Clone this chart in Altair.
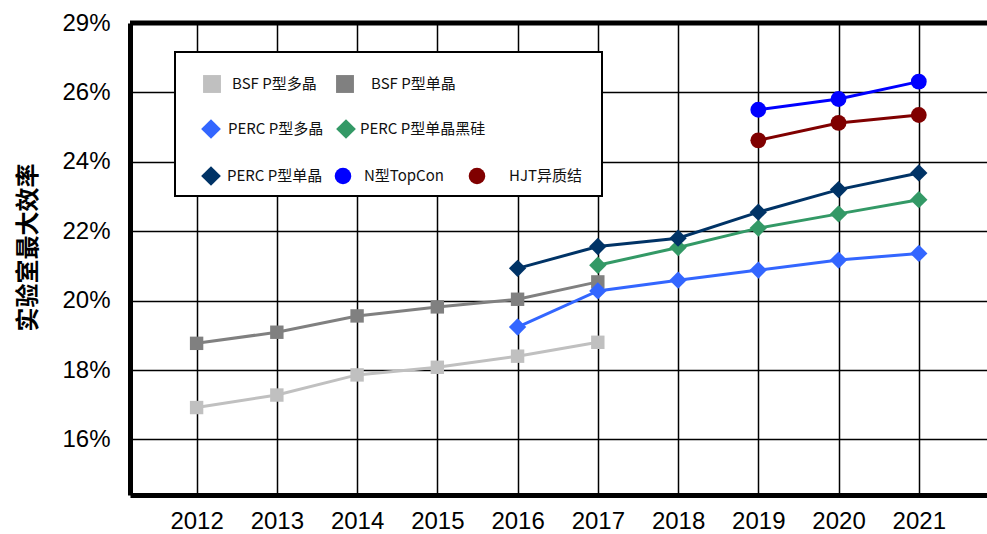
import altair as alt
import pandas as pd

# ---------------- data ----------------
series_names = ["BSF P型多晶", "BSF P型单晶", "PERC P型多晶", "PERC P型单晶黑硅",
                "PERC P型单晶", "N型TopCon", "HJT异质结"]
series_colors = ["#c0c0c0", "#808080", "#3366ff", "#339966", "#003366", "#0000ff", "#800000"]
series_shapes = ["square", "square", "diamond", "diamond", "diamond", "circle", "circle"]

bsf_multi_years = [2012, 2013, 2014, 2015, 2016, 2017]
bsf_multi = [16.92, 17.28, 17.86, 18.08, 18.40, 18.80]

bsf_mono_years = [2012, 2013, 2014, 2015, 2016, 2017]
bsf_mono = [18.77, 19.09, 19.56, 19.82, 20.04, 20.54]

perc_multi_years = [2016, 2017, 2018, 2019, 2020, 2021]
perc_multi = [19.24, 20.28, 20.59, 20.88, 21.17, 21.36]

perc_black_years = [2017, 2018, 2019, 2020, 2021]
perc_black = [21.02, 21.53, 22.09, 22.50, 22.91]

perc_mono_years = [2016, 2017, 2018, 2019, 2020, 2021]
perc_mono = [20.93, 21.56, 21.80, 22.55, 23.20, 23.68]

topcon_years = [2019, 2020, 2021]
topcon = [25.50, 25.81, 26.31]

hjt_years = [2019, 2020, 2021]
hjt = [24.62, 25.12, 25.35]

year_ticks = [2012, 2013, 2014, 2015, 2016, 2017, 2018, 2019, 2020, 2021]
y_ticks = [16, 18, 20, 22, 24, 26, 28]

series_data = [
    (bsf_multi_years, bsf_multi),
    (bsf_mono_years, bsf_mono),
    (perc_multi_years, perc_multi),
    (perc_black_years, perc_black),
    (perc_mono_years, perc_mono),
    (topcon_years, topcon),
    (hjt_years, hjt),
]

rows = []
for name, shape, (yrs, vals) in zip(series_names, series_shapes, series_data):
    for yr, v in zip(yrs, vals):
        rows.append({"series": name, "shape": shape, "year": yr, "value": v})
df = pd.DataFrame(rows)

# ---------------- layout ----------------
W, H = 857, 472
FONT_NUM = "Liberation Sans"
FONT_CJK = "Noto Sans CJK SC"

color_scale = alt.Scale(domain=series_names, range=series_colors)

x_enc = alt.X(
    "year:Q",
    scale=alt.Scale(domain=[2011.17, 2021.85], nice=False, zero=False),
    axis=alt.Axis(
        values=year_ticks, format="d", title=None, grid=True, gridColor="black",
        gridWidth=1.5, gridOpacity=1, ticks=False, domainColor="black", domainWidth=5,
        labelFont=FONT_NUM, labelFontSize=24, labelColor="black", labelPadding=14,
        labelFlush=False,
    ),
)
y_enc = alt.Y(
    "value:Q",
    scale=alt.Scale(domain=[14.4, 28], nice=False, zero=False),
    axis=alt.Axis(
        values=y_ticks,
        labelExpr="datum.value == 28 ? '29%' : datum.value + '%'",
        grid=True, gridColor="black", gridWidth=1.5, gridOpacity=1, ticks=False,
        domainColor="black", domainWidth=5,
        labelFont=FONT_NUM, labelFontSize=24, labelColor="black", labelPadding=20,
        title="实验室最大效率", titleFont=FONT_CJK, titleFontSize=24,
        titleFontWeight="bold", titleColor="black", titleX=-102, titleY=224,
        titleAngle=270, titleAlign="center", titleBaseline="middle",
    ),
)
color_enc = alt.Color("series:N", scale=color_scale, legend=None)

base = alt.Chart(df)
lines = base.mark_line(strokeWidth=3).encode(x=x_enc, y=y_enc, color=color_enc)

marker_sizes = {"square": 180, "diamond": 300, "circle": 250}
point_layers = []
for shp, sz in marker_sizes.items():
    point_layers.append(
        base.transform_filter(alt.datum.shape == shp)
        .mark_point(shape=shp, filled=True, opacity=1, size=sz, strokeWidth=0)
        .encode(x="year:Q", y="value:Q", color=color_enc)
    )

one = pd.DataFrame({"a": [0]})
top_border = alt.Chart(one).mark_rule(color="black", strokeWidth=5).encode(
    x=alt.value(0), x2=alt.value(W), y=alt.value(0)
)

# ---------------- manual legend ----------------
legend_box = alt.Chart(one).mark_rect(fill="white", stroke="black", strokeWidth=2).encode(
    x=alt.value(45), x2=alt.value(472), y=alt.value(29), y2=alt.value(173)
)
legend_marker_x = [82, 215, 81, 216, 81, 213, 347]
legend_text_x = [102, 241, 98, 230, 97, 234, 379]
legend_row_y = [61, 61, 106, 106, 153, 153, 153]
legend_marker_size = {"square": 320, "diamond": 390, "circle": 275}

legend_layers = [legend_box]
for i, name in enumerate(series_names):
    shp = series_shapes[i]
    ldf = pd.DataFrame({"label": [name]})
    legend_layers.append(
        alt.Chart(ldf).mark_point(shape=shp, filled=True, opacity=1,
                                  size=legend_marker_size[shp], strokeWidth=0,
                                  color=series_colors[i])
        .encode(x=alt.value(legend_marker_x[i]), y=alt.value(legend_row_y[i]))
    )
    legend_layers.append(
        alt.Chart(ldf).mark_text(align="left", baseline="middle", font=FONT_CJK,
                                 fontSize=15, color="#111111")
        .encode(x=alt.value(legend_text_x[i]), y=alt.value(legend_row_y[i]), text="label:N")
    )

chart = alt.layer(lines, *point_layers, top_border, *legend_layers).properties(
    width=W, height=H,
    autosize=alt.AutoSizeParams(type="none"),
    padding={"left": 130, "top": 23, "right": 0, "bottom": 39},
).configure_view(stroke=None).configure(background="white")

chart.save("out.html", embed_options={"renderer": "svg", "actions": False})
